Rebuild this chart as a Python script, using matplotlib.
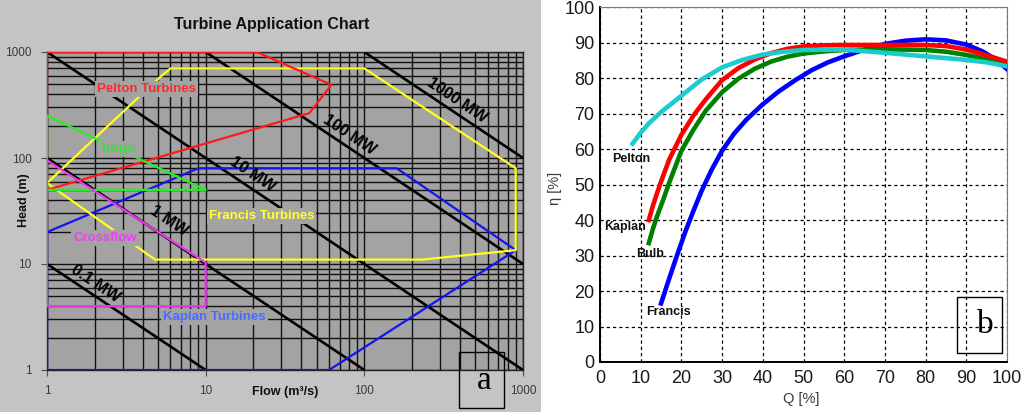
import numpy as np
import matplotlib
matplotlib.use("Agg")
import matplotlib.pyplot as plt
from matplotlib.patches import Rectangle
from matplotlib.ticker import FixedLocator, NullFormatter, LogLocator

plt.rcParams['font.family'] = ['Liberation Sans', 'DejaVu Sans']

# ---------------- (a) turbine application ranges ----------------
pelton_flow = [1, 21, 62, 45, 1, 1]
pelton_head = [1000, 1000, 490, 265, 50, 1000]

turgo_flow = [1, 10, 1, 1]
turgo_head = [250, 50, 50, 250]

francis_flow = [1, 5.1, 6, 100, 900, 900, 230, 4.8, 1]
francis_head = [58, 570, 700, 700, 80, 13.5, 11, 11, 58]

kaplan_flow = [1, 1, 9, 160, 900, 60, 1]
kaplan_head = [1, 20, 80, 80, 13.5, 1, 1]

crossflow_flow = [1, 10, 10, 1, 1]
crossflow_head = [95, 10.3, 4, 4, 95]

# iso-power lines (MW), start and end points on the chart frame
power_labels = ["0.1 MW", "1 MW", "10 MW", "100 MW", "1000 MW"]
power_start_flow = [1, 1, 1, 10, 100]
power_start_head = [10, 100, 1000, 1000, 1000]
power_end_flow = [10, 100, 1000, 1000, 1000]
power_end_head = [1, 1, 1, 10, 100]

flow_ticks = [1, 10, 100, 1000]
head_ticks = [1, 10, 100, 1000]

# ---------------- (b) efficiency curves ----------------
pelton_q = [8, 10, 12, 15, 20, 25, 30, 35, 40, 45, 50, 60, 70, 80, 90, 95, 100]
pelton_eta = [61.5, 64.6, 67.2, 70.4, 75.0, 79.6, 83.0, 85.1, 86.6, 87.4, 87.9,
              88.0, 87.1, 86.1, 85.1, 84.4, 83.3]

kaplan_q = [12, 13, 14, 15, 17, 20, 23, 26, 30, 34, 38, 42, 46, 50, 55, 60, 70,
            80, 85, 90, 95, 100]
kaplan_eta = [40, 44, 47.5, 50.8, 57, 64, 69.5, 74, 79.4, 82.8, 85.2, 87, 88.2,
              88.9, 89.2, 89.3, 89.3, 89.3, 89.0, 88.0, 86.4, 84.6]

bulb_q = [12, 13, 14, 15.5, 17, 20, 23, 26, 30, 34, 38, 42, 46, 50, 55, 60, 70,
          80, 85, 90, 95, 100]
bulb_eta = [33.5, 37.5, 41, 45.6, 50.5, 59.5, 65.5, 70.8, 76, 79.8, 82.6, 84.6,
            86, 86.9, 87.5, 87.9, 88.1, 87.9, 87.4, 86.5, 85.3, 83.7]

francis_q = [15, 17, 19, 21, 23, 25, 27.5, 30, 33, 36, 40, 44, 48, 52, 56, 60,
             65, 70, 75, 80, 85, 90, 94, 97, 100]
francis_eta = [16.5, 23.5, 30.3, 36.8, 42.7, 48.3, 54.3, 59.5, 64.4, 68.3, 72.6,
               76.3, 79.4, 82.2, 84.4, 86.1, 88, 89.6, 90.5, 90.9, 90.6, 89.4,
               87.5, 85.4, 82.5]

pct_ticks = list(range(0, 101, 10))

# ---------------- figure ----------------
W, H = 1024, 412
fig = plt.figure(figsize=(W / 100, H / 100), dpi=100)
fig.patch.set_facecolor('white')

panel_gray = '#c4c4c4'
plot_gray = '#a3a3a3'

fig.add_artist(Rectangle((0, 0), 541 / W, 1, transform=fig.transFigure,
                         facecolor=panel_gray, edgecolor='none', zorder=0))


def fbox(x0, y0, x1, y1):
    """pixel box (top-left origin) -> figure rect"""
    return [x0 / W, 1 - y1 / H, (x1 - x0) / W, (y1 - y0) / H]


# ---------- left chart ----------
ax = fig.add_axes(fbox(47, 52, 523, 370))
ax.set_facecolor(plot_gray)
ax.set_xscale('log')
ax.set_yscale('log')
ax.set_xlim(1, 1000)
ax.set_ylim(1, 1000)
ax.xaxis.set_major_locator(FixedLocator(flow_ticks))
ax.yaxis.set_major_locator(FixedLocator(head_ticks))
ax.set_xticklabels([str(v) for v in flow_ticks])
ax.set_yticklabels([str(v) for v in head_ticks])
ax.xaxis.set_minor_locator(LogLocator(base=10, subs=np.arange(2, 10)))
ax.yaxis.set_minor_locator(LogLocator(base=10, subs=np.arange(2, 10)))
ax.xaxis.set_minor_formatter(NullFormatter())
ax.yaxis.set_minor_formatter(NullFormatter())
ax.tick_params(which='major', length=4, color='#505050', labelsize=8.5,
               labelcolor='#3a3a3a', pad=7)
ax.tick_params(which='minor', length=0)
ax.grid(which='both', color='#111111', linewidth=1.0)
ax.set_axisbelow(True)
for s in ax.spines.values():
    s.set_color('#222222')
    s.set_linewidth(1.0)

# iso-power lines
for xs, ys, xe, ye in zip(power_start_flow, power_start_head,
                          power_end_flow, power_end_head):
    ax.plot([xs, xe], [ys, ye], color='black', lw=1.9, zorder=3,
            solid_capstyle='butt')

p1 = ax.transData.transform((1, 10))
p2 = ax.transData.transform((10, 1))
angle = np.degrees(np.arctan2(p2[1] - p1[1], p2[0] - p1[0]))

power_label_pos = [(2.03, 6.5), (5.9, 25.5), (19.8, 70.6), (80.5, 165), (384, 352)]
for lab, (qx, hy) in zip(power_labels, power_label_pos):
    ax.text(qx, hy, lab, rotation=angle, rotation_mode='anchor', ha='center',
            va='center', fontsize=11.5, fontweight='bold', color='black',
            zorder=6)

lw_reg = 1.6
ax.plot(kaplan_flow, kaplan_head, color='#1414f0', lw=lw_reg, zorder=4)
ax.plot(francis_flow, francis_head, color='#ffff1e', lw=lw_reg, zorder=4)
ax.plot(pelton_flow, pelton_head, color='#ff1a1a', lw=lw_reg, zorder=4)
ax.plot(turgo_flow, turgo_head, color='#22ee22', lw=lw_reg, zorder=4)
ax.plot(crossflow_flow, crossflow_head, color='#e838e8', lw=lw_reg, zorder=4)

lab_box = dict(facecolor=plot_gray, edgecolor='none', pad=1.5)
region_labels = [
    ("Pelton Turbines", 4.26, 448, '#ff2a2a'),
    ("Turgo", 2.8, 121.6, '#33e633'),
    ("Francis Turbines", 22.5, 28.4, '#ffff33'),
    ("Crossflow", 2.32, 17.6, '#f040f0'),
    ("Kaplan Turbines", 11.4, 3.16, '#4a6cff'),
]
for txt, qx, hy, col in region_labels:
    ax.text(qx, hy, txt, ha='center', va='center', fontsize=9.5,
            fontweight='bold', color=col, bbox=lab_box, zorder=7)

ax.text(0.5, -0.07, "Flow (m\u00b3/s)", transform=ax.transAxes, ha='center',
        va='center', fontsize=9, fontweight='bold', color='#111111')
fig.text(24 / W, 1 - 200 / H, "Head (m)", rotation=90, ha='center',
         va='center', fontsize=9, fontweight='bold', color='#111111')
fig.text(272 / W, 1 - 24 / H, "Turbine Application Chart", ha='center',
         va='center', fontsize=11.5, fontweight='bold', color='#111111')

fig.add_artist(Rectangle((459 / W, 1 - 408 / H), 45 / W, 56 / H,
                         transform=fig.transFigure, facecolor='none',
                         edgecolor='black', lw=1.0, zorder=10))
fig.text(484 / W, 1 - 381 / H, "a", ha='center', va='center', fontsize=24,
         family=['Liberation Serif', 'DejaVu Serif'], color='black', zorder=11)

# ---------- right chart ----------
ax2 = fig.add_axes(fbox(600, 7, 1007, 362))
ax2.set_xlim(0, 100)
ax2.set_ylim(0, 100)
ax2.set_xticks(pct_ticks)
ax2.set_yticks(pct_ticks)
ax2.tick_params(length=0, labelsize=13, labelcolor='#1a1a1a')
ax2.tick_params(axis='y', pad=4)
ax2.tick_params(axis='x', pad=6)
ax2.grid(True, color='black', linewidth=0.9, linestyle=(0, (2.6, 2.4)))
ax2.set_axisbelow(True)
ax2.spines['left'].set_color('black')
ax2.spines['bottom'].set_color('black')
ax2.spines['left'].set_linewidth(1.4)
ax2.spines['bottom'].set_linewidth(1.4)
ax2.spines['top'].set_color('#7a7a7a')
ax2.spines['right'].set_color('#7a7a7a')

clw = 3.3
ax2.plot(francis_q, francis_eta, color='#0000ff', lw=clw, zorder=3)
ax2.plot(bulb_q, bulb_eta, color='#008000', lw=clw, zorder=4)
ax2.plot(kaplan_q, kaplan_eta, color='#ff0000', lw=clw, zorder=5)
ax2.plot(pelton_q, pelton_eta, color='#1ccccc', lw=clw, zorder=6)

curve_labels = [("Pelton", 7.6, 57.2), ("Kaplan", 6.1, 38.0),
                ("Bulb", 12.3, 30.4), ("Francis", 16.8, 14.0)]
for txt, qx, ey in curve_labels:
    ax2.text(qx, ey, txt, ha='center', va='center', fontsize=9,
             fontweight='bold', color='#111111', zorder=7)

fig.text(555 / W, 1 - 188 / H, "\u03b7 [%]", rotation=90, ha='center',
         va='center', fontsize=10.5, color='#3a3a3a')
fig.text(801 / W, 1 - 399 / H, "Q [%]", ha='center', va='center',
         fontsize=10.5, color='#3a3a3a')

fig.add_artist(Rectangle((957 / W, 1 - 353 / H), 45 / W, 56 / H,
                         transform=fig.transFigure, facecolor='none',
                         edgecolor='black', lw=1.0, zorder=10))
fig.text(985 / W, 1 - 325 / H, "b", ha='center', va='center', fontsize=24,
         family=['Liberation Serif', 'DejaVu Serif'], color='black', zorder=11)

fig.savefig("out.png", dpi=100)
